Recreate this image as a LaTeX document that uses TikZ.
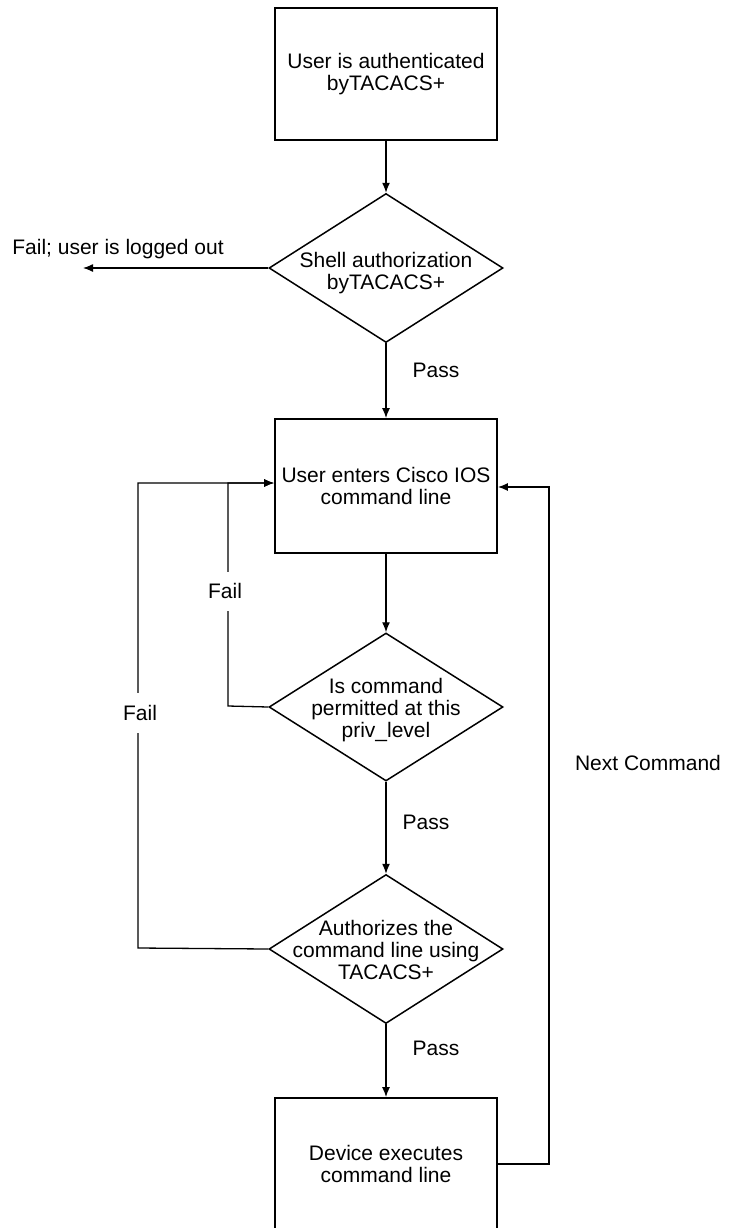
\documentclass[tikz,border=0pt]{standalone}
\usepackage{fontspec}
\setmainfont{Liberation Sans}
\usetikzlibrary{shapes.geometric,arrows.meta,calc}
\begin{document}
\begin{tikzpicture}[x=1pt,y=-1pt,
  font=\fontsize{21}{22}\selectfont,
  stepbox/.style={draw,line width=1.8pt,minimum width=222pt,inner sep=0pt,align=center},
  decision/.style={draw,diamond,line width=1.5pt,minimum width=234pt,minimum height=149pt,inner sep=0pt},
  txt/.style={align=center,inner sep=0pt},
  lbl/.style={fill=white,inner sep=0pt,text depth=0pt},
  conn/.style={line width=1.3pt,-{Latex[length=10pt,width=8pt]}},
  plain/.style={line width=1.3pt}]
\useasboundingbox (0,0) rectangle (728,1228);
% boxes
\node[stepbox,minimum height=132pt] (b1) at (386,74) {User is authenticated\\byTACACS+};
\node[decision] (d1) at (386,268) {};
\node[txt] (t1) at (386,273) {Shell authorization\\byTACACS+};
\node[stepbox,minimum height=134pt] (b2) at (386,486) {User enters Cisco IOS\\command line};
\node[decision,minimum height=148pt] (d2) at (386,707) {};
\node[txt] (t2) at (386,710) {Is command\\permitted at this\\priv\_level};
\node[decision] (d3) at (386,949) {};
\node[txt] (t3) at (386,950) {Authorizes the\\command line using\\TACACS+};
\node[stepbox,minimum height=132pt] (b3) at (386,1164) {Device executes\\command line};
% free ends and corners
\coordinate (failend) at (83,268);
\coordinate (innerC1) at (228,706);
\coordinate (outerC1) at (138,948);
\coordinate (nextC1) at (549,1164);
% connectors
\draw[conn] (b1.south) -- (d1.north);
\draw[conn] (d1.west) -- (failend);
\draw[conn] (d1.south) -- (b2.north);
\draw[conn] (b2.south) -- (d2.north);
\draw[conn] (d2.south) -- (d3.north);
\draw[conn] (d3.south) -- (b3.north);
\draw[conn] (d2.west) -- (innerC1) |- ([yshift=3pt]b2.west);
\draw[conn] (d3.west) -- (outerC1) |- ([yshift=3pt]b2.west);
\draw[conn] (b3.east) -- (nextC1) |- ([yshift=-1pt]b2.east);
% labels
\node[lbl] (lfail0) at (118,247) {Fail; user is logged out};
\node[lbl,minimum height=39pt,minimum width=34pt] (lfail1) at (225,591) {Fail};
\node[lbl,minimum height=40pt,minimum width=34pt] (lfail2) at (140,713) {Fail};
\node[lbl] (lpass1) at (436,370) {Pass};
\node[lbl] (lpass2) at (426,822) {Pass};
\node[lbl] (lpass3) at (436,1048) {Pass};
\node[lbl] (lnext) at (648,763) {Next Command};
\end{tikzpicture}
\end{document}
